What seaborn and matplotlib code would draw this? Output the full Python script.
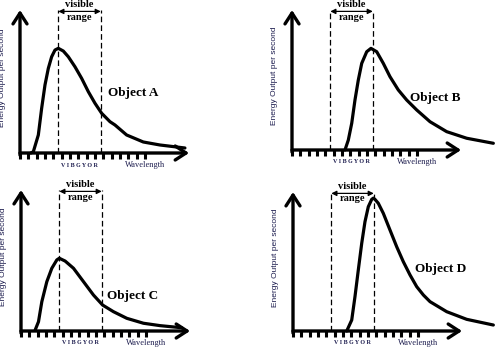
import matplotlib
matplotlib.use("Agg")
import matplotlib.pyplot as plt
import seaborn as sns
import pandas as pd

# ---- data (wavelength in tick steps, energy output in % of axis height) ----
wl_a = [1.3, 1.6, 2.2, 2.6, 3.0, 3.4, 3.8, 4.2, 4.6, 5.2, 5.8, 6.6, 7.4, 8.2, 9.0, 9.8,
        10.8, 11.4, 12.8, 14.8, 16.8, 18.8, 19.8]
en_a = [0, 0.9, 12.6, 31.3, 47.6, 59.2, 67.3, 72, 73.2, 71.3, 67.3, 60.3, 52.2, 42.9, 34.8, 27.8,
        21.9, 19.6, 12.6, 7.7, 5.6, 4.2, 3.5]

wl_b = [6.36, 6.76, 7.17, 7.56, 7.96, 8.37, 8.97, 9.48, 10.17, 10.96, 11.76, 12.76, 13.77, 14.97, 16.57, 18.57, 20.97, 24.17]
en_b = [0, 7.1, 19.1, 35.7, 50, 61.9, 70.2, 72.6, 70.2, 61.9, 52.4, 42.9, 35.7, 28.6, 20.2, 13.1, 8.4, 4.8]

wl_c = [1.7, 2.1, 2.5, 3.1, 3.7, 4.3, 4.6, 5.3, 6.3, 7.5, 8.7, 9.8, 11.1, 12.7, 14.7, 16.7, 19.3]
en_c = [0.7, 6.6, 20.8, 35, 44.5, 50.4, 51.6, 49.6, 44.5, 35, 25.5, 18.4, 13.7, 9.0, 5.5, 3.8, 2.3]

wl_d = [6.45, 7.05, 7.44, 7.84, 8.25, 8.64, 9.04, 9.45, 9.65, 9.84, 10.24, 10.84, 11.64, 12.45,
        13.24, 14.05, 14.85, 15.65, 16.45, 18.45, 20.85, 24.05]
en_d = [0, 7.9, 24.7, 43.9, 63.1, 78.6, 89.4, 94.7, 95.6, 94.7, 91.9, 84.7, 72.7, 60.6,
        49.9, 40.3, 31.9, 25.9, 21.1, 13.9, 8.4, 4.3]

object_names = ["Object A", "Object B", "Object C", "Object D"]
# label anchor (left x, centre y) in data units
label_x = [10.6, 14.2, 10.3, 14.6]
label_y = [42, 37, 24.8, 44.6]

visible_range = [4.6, 9.7]
spectrum_letters = "V I B G Y O R"
x_label = "Wavelength"
y_label = "Energy Output per second"
range_top = "visible"
range_bottom = "range"
tick_positions = list(range(16))

# ---- layout ----
FIG_W, FIG_H = 502, 350
X_LEN = 20.3       # axis length in data units
PX_PER_UNIT = 8.33
# (origin x px, origin y px from top, height px)
panel_px = [(20, 153, 143), (292, 150, 140), (21, 331, 141), (293, 331, 139)]

sns.set_theme(style="white")
plt.rcParams["font.family"] = ["Liberation Serif", "DejaVu Serif"]
NAVY = "#1d1d4f"

fig = plt.figure(figsize=(FIG_W / 100, FIG_H / 100), dpi=100)
fig.patch.set_facecolor("white")

curves = [(wl_a, en_a), (wl_b, en_b), (wl_c, en_c), (wl_d, en_d)]

for i, ((wl, en), (ox, oy, h)) in enumerate(zip(curves, panel_px)):
    w = X_LEN * PX_PER_UNIT
    ax = fig.add_axes([ox / FIG_W, (FIG_H - oy) / FIG_H, w / FIG_W, h / FIG_H])
    ax.set_facecolor("none")
    df = pd.DataFrame({"wavelength": wl, "energy": en})
    sns.lineplot(data=df, x="wavelength", y="energy", ax=ax, color="black",
                 linewidth=2.3, legend=False, sort=False)
    for ln in ax.lines:
        ln.set_clip_on(False)
        ln.set_solid_capstyle("round")
        ln.set_solid_joinstyle("round")
    ax.set_xlim(0, X_LEN)
    ax.set_ylim(0, 100)
    for s in ax.spines.values():
        s.set_visible(False)

    # axes with open arrow heads
    arrow_kw = dict(arrowstyle="->,head_length=0.65,head_width=0.42", lw=2.4,
                    color="black", shrinkA=0, shrinkB=0)
    ax.annotate("", xy=(1.0, 0), xytext=(0, 0), xycoords="axes fraction",
                textcoords="axes fraction", arrowprops=arrow_kw)
    ax.annotate("", xy=(0, 1.0), xytext=(0, -0.015), xycoords="axes fraction",
                textcoords="axes fraction", arrowprops=arrow_kw)

    ax.set_xticks(tick_positions)
    ax.set_yticks([])
    ax.tick_params(axis="x", bottom=True, direction="out", length=4.2, width=2.2,
                   color="black", labelbottom=False, pad=0)
    ax.set_xlabel("")
    ax.set_ylabel(y_label, family=["Liberation Sans", "DejaVu Sans"], fontsize=6,
                  color=NAVY)
    ax.yaxis.set_label_coords(-0.08, 0.53)

    # visible range markers
    for v in visible_range:
        ax.plot([v, v], [0, 100], color="black", lw=0.9, ls=(0, (4.5, 2.5)),
                clip_on=False)
    ax.annotate("", xy=(visible_range[1], 99), xytext=(visible_range[0], 99),
                xycoords="data",
                arrowprops=dict(arrowstyle="<|-|>,head_length=0.5,head_width=0.25",
                                lw=0.9, color="black", shrinkA=0, shrinkB=0,
                                mutation_scale=6))
    mid = sum(visible_range) / 2
    ax.text(mid, 104, range_top, ha="center", va="center", fontsize=7.5,
            color="black", fontweight="bold")
    ax.text(mid, 95, range_bottom, ha="center", va="center", fontsize=7.5,
            color="black", fontweight="bold",
            bbox=dict(facecolor="white", edgecolor="none", pad=0.2))

    ax.text(mid, -8.5, spectrum_letters, ha="center", va="center", fontsize=4.3,
            fontweight="bold", color=NAVY)
    ax.text(15.0, -8.7, x_label, ha="center", va="center", fontsize=6,
            color=NAVY)

    ax.text(label_x[i], label_y[i], object_names[i], ha="left", va="center",
            fontsize=9.5, fontweight="bold", color="black")

fig.savefig("out.png", dpi=100, facecolor="white")
